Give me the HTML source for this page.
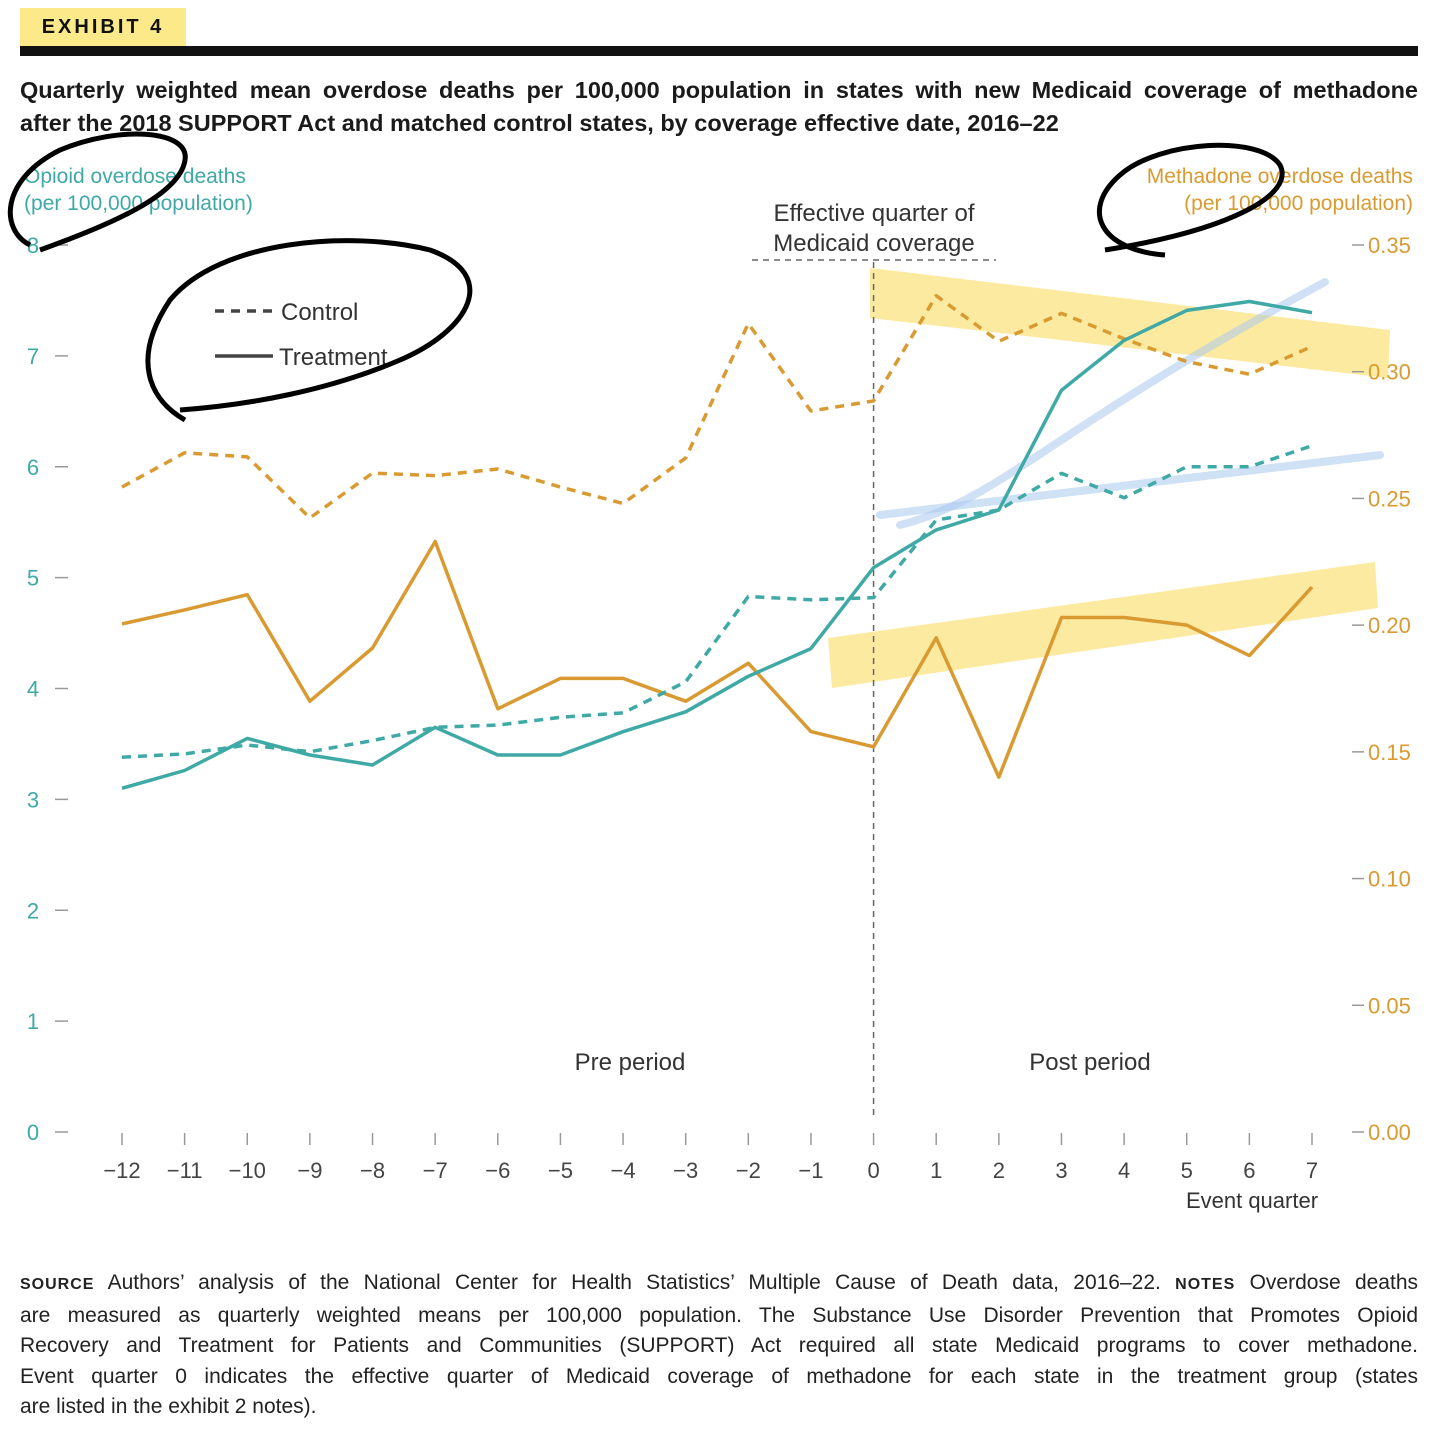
<!DOCTYPE html>
<html><head><meta charset="utf-8">
<style>
body{margin:0;background:#fff;width:1446px;height:1452px;overflow:hidden;font-family:"Liberation Sans","DejaVu Sans",sans-serif;}
#badge{position:absolute;left:20px;top:8px;width:166px;height:38px;background:#fbe98a;font-weight:bold;font-size:20px;letter-spacing:3px;line-height:38px;text-align:center;color:#111;}
#rule{position:absolute;left:20px;top:46px;width:1398px;height:10px;background:#111;}
#title{position:absolute;left:20px;top:74px;width:1398px;font-weight:bold;font-size:23.5px;line-height:33px;color:#1a1a1a;}
#title span,#notes span{display:block;white-space:nowrap;}
.j{text-align:justify;text-align-last:justify;}
#notes{position:absolute;left:20px;top:1268px;width:1398px;font-size:21px;line-height:30.5px;color:#222;}
#notes b{font-size:16px;letter-spacing:1px;}
svg{position:absolute;left:0;top:0;}
</style></head><body>
<div id="badge">EXHIBIT 4</div>
<div id="rule"></div>
<div id="title"><span class="j">Quarterly weighted mean overdose deaths per 100,000 population in states with new Medicaid coverage of methadone</span><span>after the 2018 SUPPORT Act and matched control states, by coverage effective date, 2016–22</span></div>
<svg id="chart" width="1446" height="1260"></svg>
<div id="notes"><span class="j"><b>SOURCE</b> Authors’ analysis of the National Center for Health Statistics’ Multiple Cause of Death data, 2016–22. <b>NOTES</b> Overdose deaths</span><span class="j">are measured as quarterly weighted means per 100,000 population. The Substance Use Disorder Prevention that Promotes Opioid</span><span class="j">Recovery and Treatment for Patients and Communities (SUPPORT) Act required all state Medicaid programs to cover methadone.</span><span class="j">Event quarter 0 indicates the effective quarter of Medicaid coverage of methadone for each state in the treatment group (states</span><span>are listed in the exhibit 2 notes).</span></div>
<script>
const quarters=[-12,-11,-10,-9,-8,-7,-6,-5,-4,-3,-2,-1,0,1,2,3,4,5,6,7];
const opioidTreatment=[3.10,3.26,3.55,3.40,3.31,3.65,3.40,3.40,3.61,3.79,4.11,4.36,5.09,5.43,5.61,6.69,7.14,7.41,7.49,7.39];
const opioidControl=[3.38,3.41,3.49,3.43,3.53,3.65,3.67,3.74,3.78,4.06,4.83,4.80,4.82,5.52,5.61,5.94,5.72,6.00,6.00,6.19];
const methadoneTreatment=[0.2005,0.206,0.212,0.170,0.191,0.233,0.167,0.179,0.179,0.170,0.185,0.158,0.152,0.195,0.140,0.203,0.203,0.200,0.188,0.215];
const methadoneControl=[0.2545,0.268,0.2664,0.2423,0.260,0.259,0.2616,0.2545,0.248,0.266,0.319,0.2845,0.2885,0.330,0.312,0.323,0.313,0.304,0.299,0.310];
const leftTicks=[0,1,2,3,4,5,6,7,8];
const rightTicks=["0.00","0.05","0.10","0.15","0.20","0.25","0.30","0.35"];

const TEAL="#3fa9a6",ORANGE="#d99a32",NS="http://www.w3.org/2000/svg";
const svg=document.getElementById('chart');
const x=q=>122+(q+12)*(1190/19);
const yL=v=>1132-v*(887/8);
const yR=v=>1132-v*(887/0.35);
function el(tag,attrs,parent){const e=document.createElementNS(NS,tag);for(const k in attrs)e.setAttribute(k,attrs[k]);(parent||svg).appendChild(e);return e;}
function txt(s,attrs){const t=el('text',attrs);t.textContent=s;return t;}
const F='"Liberation Sans","DejaVu Sans",sans-serif';

let h;
h=el('polygon',{points:"870,268 1390,330 1388,378 870,318",fill:"#fde58a",opacity:"0.8"});

h=el('polygon',{points:"828,638 1375,562 1378,608 832,688",fill:"#fde58a",opacity:"0.8"});


leftTicks.forEach(v=>{
  let l=el('line',{x1:55,x2:68,y1:yL(v),y2:yL(v),stroke:"#999","stroke-width":1.5});
  
  let t=txt(String(v),{x:33,y:yL(v)+8,fill:TEAL,"font-size":22,"text-anchor":"middle","font-family":F});
  
});
rightTicks.forEach(s=>{
  const v=parseFloat(s);
  let l=el('line',{x1:1352,x2:1364,y1:yR(v),y2:yR(v),stroke:"#999","stroke-width":1.5});
  
  let t=txt(s,{x:1368,y:yR(v)+8,fill:ORANGE,"font-size":22,"font-family":F});
  
});
quarters.forEach(q=>{
  let l=el('line',{x1:x(q),x2:x(q),y1:1133,y2:1145,stroke:"#999","stroke-width":1.5});
  
  let t=txt(q<0?'−'+(-q):String(q),{x:x(q),y:1178,fill:"#444","font-size":22,"text-anchor":"middle","font-family":F});
  
});
let t;
t=txt("Event quarter",{x:1252,y:1208,fill:"#333","font-size":22,"text-anchor":"middle","font-family":F});

t=txt("Opioid overdose deaths",{x:24,y:183,fill:TEAL,"font-size":21,"font-family":F});

t=txt("(per 100,000 population)",{x:24,y:210,fill:TEAL,"font-size":21,"font-family":F});

t=txt("Methadone overdose deaths",{x:1413,y:183,fill:ORANGE,"font-size":21,"text-anchor":"end","font-family":F});

t=txt("(per 100,000 population)",{x:1413,y:210,fill:ORANGE,"font-size":21,"text-anchor":"end","font-family":F});


let r=el('line',{x1:x(0),x2:x(0),y1:262,y2:1115,stroke:"#666","stroke-width":1.5,"stroke-dasharray":"6,5"});

r=el('line',{x1:752,x2:996,y1:260,y2:260,stroke:"#666","stroke-width":1.5,"stroke-dasharray":"6,5"});

t=txt("Effective quarter of",{x:874,y:221,fill:"#333","font-size":24,"text-anchor":"middle","font-family":F});

t=txt("Medicaid coverage",{x:874,y:251,fill:"#333","font-size":24,"text-anchor":"middle","font-family":F});

t=txt("Pre period",{x:630,y:1070,fill:"#333","font-size":24,"text-anchor":"middle","font-family":F});

t=txt("Post period",{x:1090,y:1070,fill:"#333","font-size":24,"text-anchor":"middle","font-family":F});


let b=el('line',{x1:880,y1:515,x2:1380,y2:455,stroke:"#a9c9ee","stroke-width":8,opacity:"0.55","stroke-linecap":"round"});

b=el('path',{d:"M900,525 C1000,500 1050,430 1325,282",fill:"none",stroke:"#a9c9ee","stroke-width":8,opacity:"0.55","stroke-linecap":"round"});


function line(vals,yf,color,dash,name){
  const d=vals.map((v,i)=>(i?'L':'M')+x(quarters[i]).toFixed(1)+','+yf(v).toFixed(1)).join(' ');
  const p=el('path',{d:d,fill:"none",stroke:color,"stroke-width":3.5,"stroke-linejoin":"round"});
  if(dash)p.setAttribute('stroke-dasharray',"9,7");
  
  
}
line(methadoneControl,yR,ORANGE,true,'methadone-control-line');
line(methadoneTreatment,yR,ORANGE,false,'methadone-treatment-line');
line(opioidControl,yL,TEAL,true,'opioid-control-line');
line(opioidTreatment,yL,TEAL,false,'opioid-treatment-line');

let lg=el('line',{x1:215,x2:273,y1:311,y2:311,stroke:"#444","stroke-width":3.5,"stroke-dasharray":"9,7"});

t=txt("Control",{x:281,y:320,fill:"#333","font-size":24,"font-family":F});

lg=el('line',{x1:215,x2:273,y1:356,y2:356,stroke:"#444","stroke-width":3.5});

t=txt("Treatment",{x:279,y:365,fill:"#333","font-size":24,"font-family":F});


let s=el('path',{d:"M30,245 C0,230 0,180 60,150 C120,125 190,130 185,160 C180,195 110,225 40,250",fill:"none",stroke:"#000","stroke-width":5});

s=el('path',{d:"M185,420 C150,400 130,360 170,300 C220,240 350,230 430,250 C500,275 470,330 400,360 C330,390 250,405 180,410",fill:"none",stroke:"#000","stroke-width":5});

s=el('path',{d:"M1165,255 C1100,250 1080,210 1120,175 C1160,140 1260,135 1280,165 C1295,195 1230,230 1105,250",fill:"none",stroke:"#000","stroke-width":5});

</script>
</body></html>
